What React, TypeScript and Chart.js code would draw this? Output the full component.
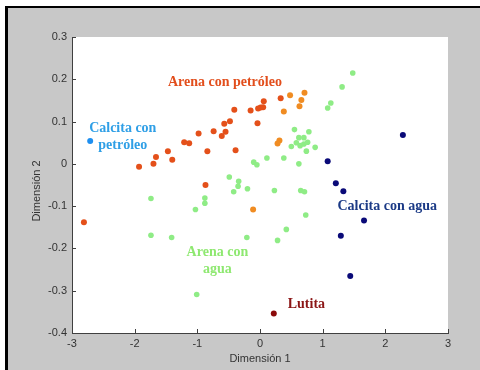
import React, { useEffect, useRef } from "react";
import { Chart, registerables } from "chart.js";

Chart.register(...registerables);

// Arena con petróleo (red-orange)
const arenaPetroleoRojoX = [-2.81, -1.93, -1.70, -1.66, -1.47, -1.40, -1.21, -1.13, -0.98, -0.84, -0.74, -0.61, -0.57, -0.55, -0.48, -0.41, -0.39, -0.87, -0.15, -0.04, -0.03, 0.01, 0.05, 0.06, 0.33];
const arenaPetroleoRojoY = [-0.138, -0.007, 0.0, 0.016, 0.030, 0.010, 0.051, 0.049, 0.072, 0.030, 0.077, 0.066, 0.095, 0.076, 0.101, 0.128, 0.032, -0.050, 0.126, 0.096, 0.131, 0.133, 0.134, 0.148, 0.155];
// Arena con petróleo (orange)
const arenaPetroleoNaranjaX = [0.48, 0.71, 0.66, 0.63, 0.38, 0.31, 0.28, -0.11];
const arenaPetroleoNaranjaY = [0.162, 0.168, 0.151, 0.136, 0.124, 0.055, 0.048, -0.108];
// Calcita con petróleo
const calcitaPetroleoX = [-2.71];
const calcitaPetroleoY = [0.054];
// Arena con agua
const arenaAguaX = [1.48, 1.31, 1.13, 1.08, 0.55, 0.78, 0.62, 0.70, 0.58, 0.50, 0.64, 0.70, 0.76, 0.88, 0.74, 0.38, 0.11, -0.10, -0.05, 0.62, -0.49, -0.34, -0.35, -0.42, -0.20, 0.23, 0.65, 0.71, -1.74, -0.88, -0.88, -1.03, 0.73, -1.74, -1.41, -0.21, 0.42, 0.28, -1.01];
const arenaAguaY = [0.215, 0.182, 0.144, 0.132, 0.081, 0.076, 0.062, 0.062, 0.050, 0.041, 0.043, 0.047, 0.051, 0.039, 0.030, 0.014, 0.014, 0.004, -0.002, 0.0, -0.031, -0.041, -0.053, -0.066, -0.059, -0.063, -0.063, -0.066, -0.082, -0.081, -0.093, -0.108, -0.121, -0.169, -0.174, -0.174, -0.155, -0.181, -0.309];
// Calcita con agua
const calcitaAguaX = [2.28, 1.08, 1.21, 1.33, 1.66, 1.29, 1.44];
const calcitaAguaY = [0.068, 0.006, -0.046, -0.065, -0.134, -0.170, -0.265];
// Lutita
const lutitaX = [0.22];
const lutitaY = [-0.354];

const xTicks = [-3, -2, -1, 0, 1, 2, 3];
const yTicks = [0.3, 0.2, 0.1, 0, -0.1, -0.2, -0.3, -0.4];

const groupLabels = [
  { lines: ["Arena con petróleo"], x: -0.56, y: 0.192, color: "#e24e1c" },
  { lines: ["Calcita con", "petróleo"], x: -2.19, y: 0.063, color: "#2f9fe6" },
  { lines: ["Calcita con agua"], x: 2.03, y: -0.1, color: "#1b3a86" },
  { lines: ["Arena con", "agua"], x: -0.68, y: -0.229, color: "#8ee870" },
  { lines: ["Lutita"], x: 0.74, y: -0.332, color: "#8b1515" },
];

const toPoints = (xs: number[], ys: number[]) => xs.map((x, i) => ({ x, y: ys[i] }));

export default function App() {
  const ref = useRef<HTMLCanvasElement | null>(null);

  useEffect(() => {
    if (!ref.current) return;
    const decor = {
      id: "decor",
      afterDraw(chart: any) {
        const ctx = chart.ctx;
        const xs = chart.scales.x;
        const ys = chart.scales.y;
        const area = chart.chartArea;
        ctx.save();
        // inward ticks
        ctx.strokeStyle = "#404040";
        ctx.lineWidth = 1;
        ctx.beginPath();
        xTicks.forEach((v) => {
          const px = Math.round(xs.getPixelForValue(v)) + 0.5;
          ctx.moveTo(px, area.bottom);
          ctx.lineTo(px, area.bottom - 4);
        });
        yTicks.forEach((v) => {
          const py = Math.round(ys.getPixelForValue(v)) + 0.5;
          ctx.moveTo(area.left, py);
          ctx.lineTo(area.left + 4, py);
        });
        ctx.stroke();
        // axis titles
        ctx.fillStyle = "#333333";
        ctx.font = "11px 'Liberation Sans', Arial, sans-serif";
        ctx.textAlign = "center";
        ctx.textBaseline = "middle";
        ctx.fillText("Dimensión 1", (area.left + area.right) / 2, 359);
        ctx.save();
        ctx.translate(37, 191);
        ctx.rotate(-Math.PI / 2);
        ctx.fillText("Dimensión 2", 0, 0);
        ctx.restore();
        // group labels
        ctx.font = "bold 14px 'Liberation Serif', 'Times New Roman', serif";
        groupLabels.forEach((g) => {
          const cx = xs.getPixelForValue(g.x);
          const cy = ys.getPixelForValue(g.y);
          ctx.fillStyle = g.color;
          g.lines.forEach((line, i) => {
            ctx.fillText(line, cx, cy + (i - (g.lines.length - 1) / 2) * 17);
          });
        });
        ctx.restore();
      },
    };
    const chart = new Chart(ref.current, {
      type: "scatter",
      data: {
        datasets: [
          { data: toPoints(arenaAguaX, arenaAguaY), backgroundColor: "#8fec86", borderWidth: 0, pointRadius: 2.8 },
          { data: toPoints(arenaPetroleoRojoX, arenaPetroleoRojoY), backgroundColor: "#e4501a", borderWidth: 0, pointRadius: 3 },
          { data: toPoints(arenaPetroleoNaranjaX, arenaPetroleoNaranjaY), backgroundColor: "#f08c22", borderWidth: 0, pointRadius: 3 },
          { data: toPoints(calcitaPetroleoX, calcitaPetroleoY), backgroundColor: "#1e8ff0", borderWidth: 0, pointRadius: 3 },
          { data: toPoints(calcitaAguaX, calcitaAguaY), backgroundColor: "#0a0a78", borderWidth: 0, pointRadius: 3 },
          { data: toPoints(lutitaX, lutitaY), backgroundColor: "#8b0a0a", borderWidth: 0, pointRadius: 3 },
        ],
      },
      options: {
        animation: false,
        responsive: false,
        events: [],
        layout: { padding: { left: 0, top: 37, right: 32, bottom: 0 } },
        plugins: { legend: { display: false }, tooltip: { enabled: false } },
        scales: {
          x: {
            type: "linear",
            min: -3,
            max: 3,
            afterFit: (s: any) => { s.height = 37; },
            afterBuildTicks: (s: any) => { s.ticks = xTicks.map((v) => ({ value: v })); },
            grid: { display: false, drawTicks: false },
            border: { display: true, color: "#404040", width: 1 },
            ticks: { padding: 4, color: "#333333", font: { family: "'Liberation Sans', Arial, sans-serif", size: 11 }, maxRotation: 0 },
          },
          y: {
            type: "linear",
            min: -0.4,
            max: 0.3,
            afterFit: (s: any) => { s.width = 72; },
            afterBuildTicks: (s: any) => { s.ticks = yTicks.map((v) => ({ value: v })); },
            grid: { display: false, drawTicks: false },
            border: { display: true, color: "#404040", width: 1 },
            ticks: { padding: 5, color: "#333333", font: { family: "'Liberation Sans', Arial, sans-serif", size: 11 } },
          },
        },
      },
      plugins: [
        {
          id: "plotBg",
          beforeDraw(chart: any) {
            const { ctx, chartArea: a } = chart;
            ctx.save();
            ctx.fillStyle = "#ffffff";
            ctx.fillRect(a.left, a.top, a.right - a.left, a.bottom - a.top);
            ctx.restore();
          },
        },
        decor,
      ],
    });
    return () => chart.destroy();
  }, []);

  return (
    <div style={{ position: "fixed", left: 0, top: 0, width: 480, height: 370, background: "#ffffff", overflow: "hidden" }}>
      <div
        style={{
          position: "absolute",
          left: 5,
          top: 6,
          width: 472,
          height: 364,
          background: "#c8c8c8",
          borderLeft: "3px solid #000",
          borderTop: "2px solid #000",
        }}
      />
      <canvas ref={ref} width={480} height={370} style={{ position: "absolute", left: 0, top: 0, width: 480, height: 370 }} />
    </div>
  );
}
